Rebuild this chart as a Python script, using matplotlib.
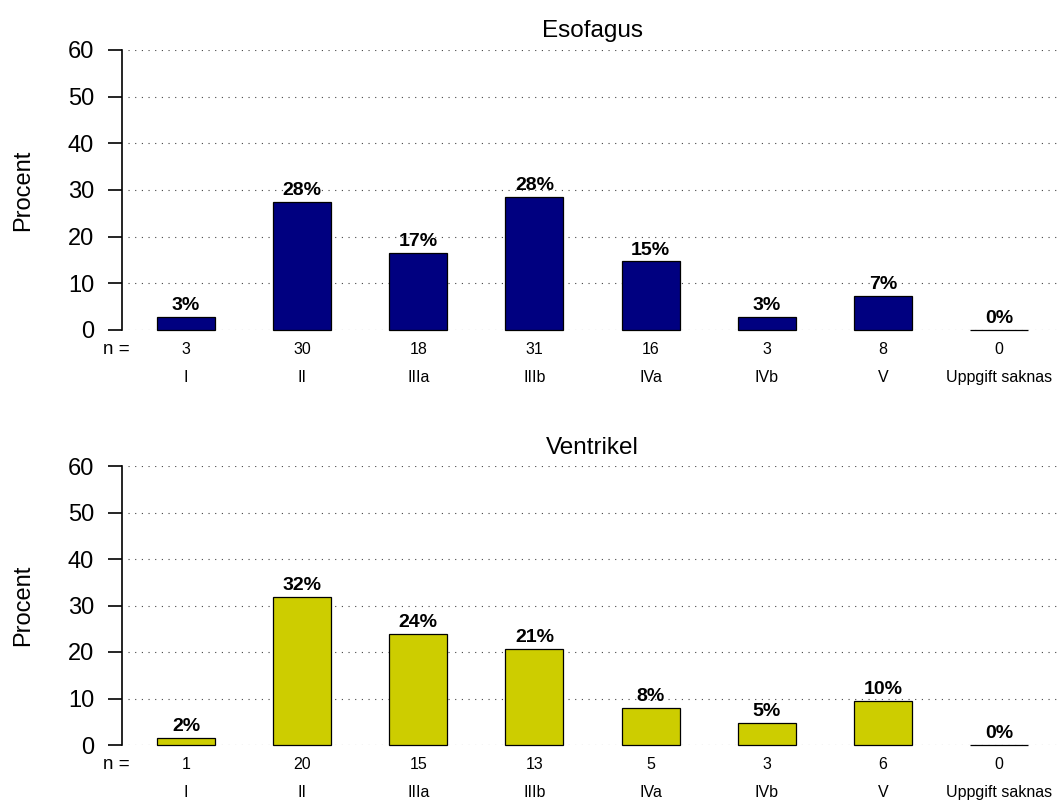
import matplotlib
matplotlib.use("Agg")
import matplotlib.pyplot as plt
from matplotlib.transforms import offset_copy
import numpy as np

plt.rcParams['font.family'] = ['Liberation Sans', 'DejaVu Sans']

categories = ["I", "II", "IIIa", "IIIb", "IVa", "IVb", "V", "Uppgift saknas"]
esofagus_n = [3, 30, 18, 31, 16, 3, 8, 0]
ventrikel_n = [1, 20, 15, 13, 5, 3, 6, 0]
panel_titles = ["Esofagus", "Ventrikel"]
panel_colors = ["#000080", "#CDCD00"]
y_ticks = [0, 10, 20, 30, 40, 50, 60]

W, H = 1057, 802
fig = plt.figure(figsize=(W / 100, H / 100), dpi=100)


def px_axes(left, right, y0, y60):
    return fig.add_axes([left / W, 1 - y0 / H, (right - left) / W, (y0 - y60) / H])


def draw_panel(ax, counts, title, color):
    counts = np.asarray(counts, dtype=float)
    pct = 100 * counts / counts.sum()
    x = np.arange(len(categories))
    ax.set_xlim(-0.5, len(categories) - 0.5)
    ax.set_ylim(0, 60)
    ax.yaxis.grid(True, color="#444444", linestyle=(0, (1, 5)), linewidth=0.8)
    ax.set_axisbelow(True)
    ax.bar(x, pct, width=0.5, color=color, edgecolor="black", linewidth=0.9,
           zorder=3, clip_on=False)
    for xi, p in zip(x, pct):
        ax.annotate(f"{p:.0f}%", (xi, p), xytext=(0, 5), textcoords="offset points",
                    ha="center", va="baseline", fontsize=14, fontweight="bold",
                    annotation_clip=False)
    for s in ["top", "right", "bottom"]:
        ax.spines[s].set_visible(False)
    ax.spines["left"].set_position(("outward", 4.3))
    ax.spines["left"].set_bounds(0, 60)
    ax.spines["left"].set_linewidth(1.2)
    ax.set_xticks([])
    ax.set_yticks(y_ticks)
    ax.tick_params(axis="y", length=10, width=1.2, pad=10, labelsize=17)
    ax.set_ylabel("Procent", fontsize=17, labelpad=24)
    ax.set_title(title, fontsize=17.5, pad=9)
    trans = ax.get_xaxis_transform()
    t_n = offset_copy(trans, fig=fig, y=-24, units="dots")
    t_c = offset_copy(trans, fig=fig, y=-52, units="dots")
    for xi, c, lab in zip(x, counts.astype(int), categories):
        ax.text(xi, 0, str(c), transform=t_n, ha="center", va="baseline", fontsize=11.5)
        ax.text(xi, 0, lab, transform=t_c, ha="center", va="baseline", fontsize=11.5)
    ax.text(-0.6, 0, "n =", transform=t_n, ha="center", va="baseline", fontsize=13.5)


ax1 = px_axes(128, 1057, 330, 50)
ax2 = px_axes(128, 1057, 745, 466)
draw_panel(ax1, esofagus_n, panel_titles[0], panel_colors[0])
draw_panel(ax2, ventrikel_n, panel_titles[1], panel_colors[1])

fig.savefig("out.png", dpi=100)
